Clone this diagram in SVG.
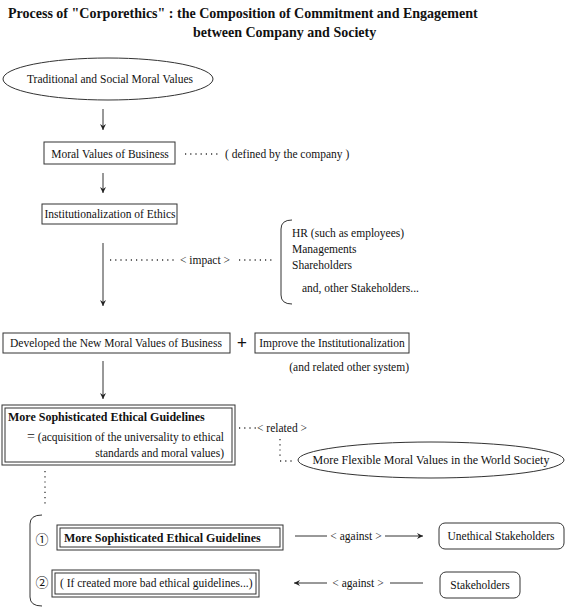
<svg xmlns="http://www.w3.org/2000/svg" width="566" height="608" viewBox="0 0 566 608">
<defs>
<marker id="ah" markerWidth="8" markerHeight="8" refX="7" refY="4" orient="auto" markerUnits="userSpaceOnUse">
<path d="M1,1 L7,4 L1,7 L3,4 z" fill="#222"/>
</marker>
</defs>
<style>
text{font-family:"Liberation Serif","Times New Roman",serif;fill:#111;font-size:11.5px}
.t{font-size:14px;font-weight:bold}
.b{font-weight:bold;font-size:12px}
.box{fill:#fff;stroke:#333;stroke-width:1}
.ln{stroke:#333;stroke-width:1;fill:none}
.dot{stroke:#333;stroke-width:1.3;fill:none;stroke-dasharray:1.2 4}
.num{font-family:"Noto Sans CJK JP","DejaVu Sans",sans-serif;font-size:13px}
</style>
<rect width="566" height="608" fill="#fff"/>
<g id="title">
<text class="t" x="8" y="18">Process of "Corporethics" : the Composition of Commitment and Engagement</text>
<text class="t" x="193" y="37">between Company and Society</text>
</g>
<g id="traditional">
<ellipse class="box" cx="108" cy="79" rx="105" ry="21"/>
<text x="110" y="83" text-anchor="middle">Traditional and Social Moral Values</text>
</g>
<g id="moral-values">
<rect class="box" x="44" y="142" width="131" height="22"/>
<text x="110" y="158" text-anchor="middle">Moral Values of Business</text>
<text x="225" y="158">( defined by the company )</text>
</g>
<g id="institutionalization">
<rect class="box" x="42" y="204" width="135" height="20"/>
<text x="110" y="218" text-anchor="middle">Institutionalization of Ethics</text>
</g>
<g id="stakeholders-list">
<path class="ln" d="M292,220 Q281,220 281,229 L281,295 Q281,304 292,304"/>
<text x="292" y="237">HR (such as employees)</text>
<text x="292" y="253">Managements</text>
<text x="292" y="269">Shareholders</text>
<text x="302" y="292">and, other Stakeholders...</text>
</g>
<g id="developed">
<rect class="box" x="3" y="333" width="227" height="20"/>
<text x="116" y="347" text-anchor="middle">Developed the New Moral Values of Business</text>
<text x="242" y="349" text-anchor="middle" style="font-size:18px;font-weight:bold">+</text>
</g>
<g id="improve">
<rect class="box" x="255" y="333" width="154" height="20"/>
<text x="332" y="347" text-anchor="middle">Improve the Institutionalization</text>
<text x="409" y="371" text-anchor="end">(and related other system)</text>
</g>
<g id="sophisticated">
<rect class="box" x="2" y="405" width="233" height="60"/>
<rect class="box" x="5" y="408" width="227" height="54"/>
<text class="b" x="8" y="421">More Sophisticated Ethical Guidelines</text>
<text x="224" y="441" text-anchor="end"><tspan style="font-size:14px">=</tspan> (acquisition of the universality to ethical</text>
<text x="224" y="457" text-anchor="end">standards and moral values)</text>
</g>
<g id="flexible">
<ellipse class="box" cx="431" cy="460" rx="133" ry="18"/>
<text x="431" y="464" text-anchor="middle" style="font-size:12px">More Flexible Moral Values in the World Society</text>
</g>
<g id="cases">
<path class="ln" d="M42,515 Q30,515 30,524 L30,597 Q30,606 42,606"/>
<text class="num" x="42" y="544" text-anchor="middle">①</text>
<text class="num" x="42" y="587" text-anchor="middle">②</text>
</g>
<g id="guidelines-1">
<rect class="box" x="57" y="525" width="226" height="25"/>
<rect class="box" x="60" y="528" width="220" height="19"/>
<text class="b" x="64" y="542">More Sophisticated Ethical Guidelines</text>
</g>
<g id="guidelines-2">
<rect class="box" x="52" y="570" width="207" height="27"/>
<rect class="box" x="55" y="573" width="201" height="21"/>
<text x="60" y="587">( If created more bad ethical guidelines...)</text>
</g>
<g id="unethical">
<rect class="box" x="439" y="523" width="125" height="26" rx="6"/>
<text x="501" y="540" text-anchor="middle">Unethical Stakeholders</text>
</g>
<g id="stakeholders">
<rect class="box" x="440" y="572" width="80" height="26" rx="6"/>
<text x="480" y="589" text-anchor="middle">Stakeholders</text>
</g>
<g id="connectors">
<line class="ln" x1="103" y1="109" x2="103" y2="130" marker-end="url(#ah)"/>
<line class="ln" x1="103" y1="173" x2="103" y2="193" marker-end="url(#ah)"/>
<line class="ln" x1="103" y1="243" x2="103" y2="306" marker-end="url(#ah)"/>
<line class="ln" x1="103" y1="361" x2="103" y2="399" marker-end="url(#ah)"/>
<line class="dot" x1="185" y1="154" x2="218" y2="154"/>
<line class="dot" x1="110" y1="260" x2="174" y2="260"/>
<text x="205" y="264" text-anchor="middle">&lt; impact &gt;</text>
<line class="dot" x1="239" y1="260" x2="273" y2="260"/>
<line class="dot" x1="239" y1="428" x2="256" y2="428"/>
<text x="257" y="432">&lt; related &gt;</text>
<line class="dot" x1="280" y1="439" x2="280" y2="456"/>
<line class="dot" x1="280" y1="461" x2="295" y2="461"/>
<line class="dot" x1="45" y1="471" x2="45" y2="505"/>
<line class="ln" x1="295" y1="536" x2="327" y2="536"/>
<text x="356" y="540" text-anchor="middle">&lt; against &gt;</text>
<line class="ln" x1="385" y1="536" x2="423" y2="536" marker-end="url(#ah)"/>
<line class="ln" x1="327" y1="583" x2="294" y2="583" marker-end="url(#ah)"/>
<text x="358" y="587" text-anchor="middle">&lt; against &gt;</text>
<line class="ln" x1="390" y1="583" x2="423" y2="583"/>
</g>
</svg>
